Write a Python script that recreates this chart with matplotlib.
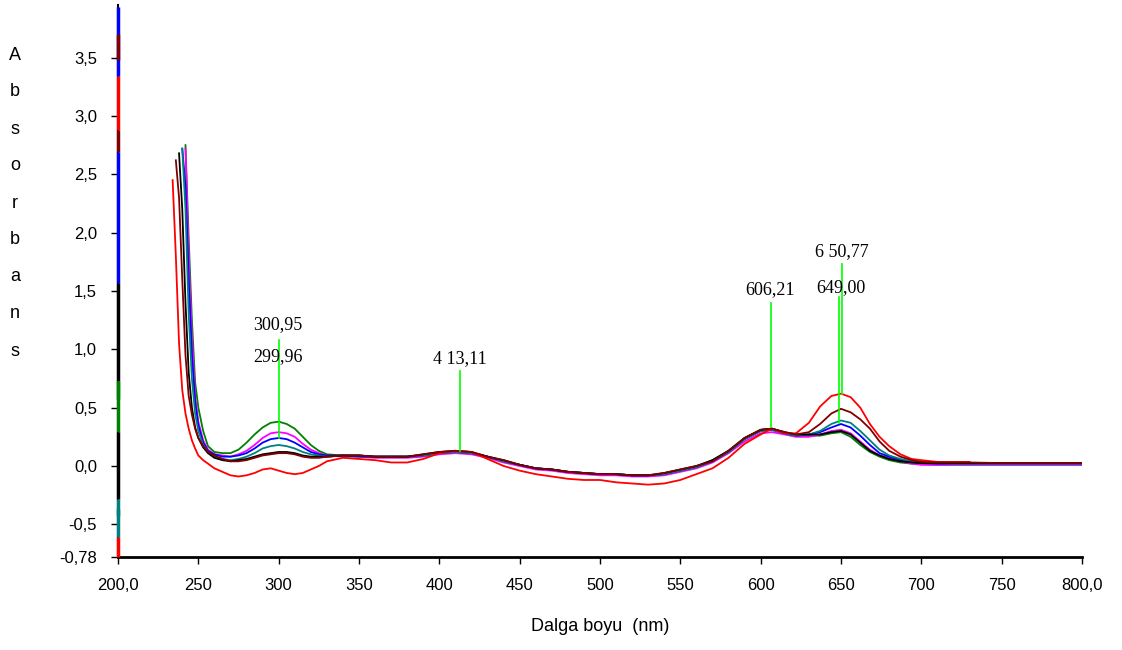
import numpy as np
import matplotlib
matplotlib.use('Agg')
import matplotlib.pyplot as plt

nan = np.nan

# wavelength grid (nm)
wl = [234, 236, 238, 240, 242, 244, 246, 248, 250, 253,
      256, 260, 265, 270, 275, 280, 285, 290, 295, 300,
      305, 310, 315, 320, 325, 330, 340, 350, 360, 370,
      380, 390, 400, 410, 420, 430, 440, 450, 460, 470,
      480, 490, 500, 510, 520, 530, 540, 550, 560, 570,
      580, 590, 600, 607, 615, 622, 630, 637, 644, 650,
      656, 662, 668, 674, 680, 687, 694, 700, 710, 720,
      730, 750, 775, 800]

# absorbance of each spectrum
a_green = [nan, nan, nan, nan, 2.75, 1.95, 1.25, 0.72, 0.50, 0.30,
           0.17, 0.12, 0.11, 0.11, 0.14, 0.20, 0.27, 0.33, 0.37, 0.38,
           0.36, 0.32, 0.25, 0.18, 0.13, 0.10, 0.09, 0.09, 0.08, 0.08,
           0.08, 0.09, 0.11, 0.12, 0.11, 0.08, 0.04, 0.01, -0.02, -0.03,
           -0.05, -0.06, -0.07, -0.07, -0.08, -0.08, -0.07, -0.04, -0.01, 0.05,
           0.13, 0.24, 0.31, 0.32, 0.28, 0.26, 0.26, 0.26, 0.28, 0.29,
           0.25, 0.18, 0.12, 0.08, 0.05, 0.03, 0.02, 0.015, 0.01, 0.01,
           0.01, 0.01, 0.01, 0.01]
a_magenta = [nan, nan, nan, nan, 2.72, 1.80, 1.10, 0.60, 0.38, 0.22,
             0.14, 0.10, 0.09, 0.08, 0.10, 0.13, 0.18, 0.24, 0.28, 0.29,
             0.28, 0.25, 0.19, 0.14, 0.11, 0.09, 0.08, 0.08, 0.07, 0.07,
             0.07, 0.08, 0.10, 0.11, 0.10, 0.07, 0.03, 0.00, -0.03, -0.04,
             -0.06, -0.07, -0.08, -0.08, -0.09, -0.09, -0.08, -0.05, -0.02, 0.03,
             0.11, 0.21, 0.28, 0.29, 0.27, 0.25, 0.25, 0.27, 0.30, 0.31,
             0.28, 0.21, 0.14, 0.09, 0.07, 0.04, 0.02, 0.01, 0.01, 0.01,
             0.01, 0.01, 0.01, 0.01]
a_blue = [nan, nan, nan, 2.72, 2.40, 1.60, 0.95, 0.55, 0.35, 0.20,
          0.13, 0.10, 0.08, 0.08, 0.09, 0.11, 0.15, 0.20, 0.23, 0.24,
          0.23, 0.20, 0.16, 0.12, 0.10, 0.09, 0.09, 0.08, 0.08, 0.08,
          0.08, 0.09, 0.11, 0.12, 0.11, 0.08, 0.04, 0.01, -0.02, -0.03,
          -0.05, -0.06, -0.07, -0.07, -0.08, -0.08, -0.07, -0.04, -0.01, 0.04,
          0.12, 0.23, 0.30, 0.31, 0.28, 0.26, 0.27, 0.29, 0.33, 0.36,
          0.33, 0.26, 0.18, 0.11, 0.08, 0.05, 0.035, 0.025, 0.02, 0.02,
          0.02, 0.02, 0.02, 0.02]
a_teal = [nan, nan, nan, 2.72, 2.20, 1.30, 0.75, 0.45, 0.30, 0.18,
          0.12, 0.08, 0.06, 0.05, 0.06, 0.08, 0.11, 0.15, 0.17, 0.18,
          0.17, 0.15, 0.12, 0.10, 0.09, 0.08, 0.09, 0.09, 0.08, 0.08,
          0.08, 0.09, 0.11, 0.12, 0.11, 0.08, 0.04, 0.01, -0.02, -0.03,
          -0.05, -0.06, -0.07, -0.07, -0.08, -0.08, -0.07, -0.04, -0.01, 0.04,
          0.12, 0.23, 0.30, 0.31, 0.28, 0.26, 0.27, 0.30, 0.36, 0.39,
          0.37, 0.30, 0.22, 0.14, 0.09, 0.06, 0.04, 0.03, 0.025, 0.02,
          0.02, 0.02, 0.02, 0.02]
a_black = [nan, nan, 2.68, 2.20, 1.40, 0.80, 0.50, 0.33, 0.24, 0.16,
           0.11, 0.07, 0.05, 0.04, 0.05, 0.06, 0.08, 0.10, 0.11, 0.12,
           0.12, 0.11, 0.09, 0.08, 0.08, 0.08, 0.09, 0.09, 0.08, 0.08,
           0.08, 0.10, 0.12, 0.13, 0.12, 0.08, 0.05, 0.01, -0.02, -0.03,
           -0.05, -0.06, -0.07, -0.07, -0.08, -0.08, -0.06, -0.03, 0.00, 0.05,
           0.13, 0.24, 0.31, 0.32, 0.29, 0.27, 0.27, 0.27, 0.29, 0.30,
           0.27, 0.20, 0.13, 0.09, 0.06, 0.04, 0.03, 0.025, 0.025, 0.025,
           0.025, 0.025, 0.025, 0.025]
a_darkred = [nan, 2.62, 2.30, 1.60, 0.95, 0.60, 0.44, 0.32, 0.24, 0.17,
             0.12, 0.09, 0.06, 0.04, 0.04, 0.05, 0.07, 0.09, 0.10, 0.11,
             0.11, 0.10, 0.08, 0.07, 0.07, 0.08, 0.09, 0.09, 0.08, 0.08,
             0.08, 0.10, 0.12, 0.13, 0.12, 0.08, 0.05, 0.01, -0.02, -0.03,
             -0.05, -0.06, -0.07, -0.07, -0.08, -0.08, -0.06, -0.03, 0.00, 0.04,
             0.13, 0.24, 0.31, 0.32, 0.29, 0.27, 0.29, 0.36, 0.45, 0.49,
             0.46, 0.40, 0.32, 0.21, 0.13, 0.08, 0.05, 0.035, 0.03, 0.03,
             0.03, 0.025, 0.025, 0.025]
a_red = [2.45, 1.80, 1.05, 0.65, 0.45, 0.32, 0.22, 0.15, 0.09, 0.05,
         0.02, -0.02, -0.05, -0.08, -0.09, -0.08, -0.06, -0.03, -0.02, -0.04,
         -0.06, -0.07, -0.06, -0.03, 0.00, 0.04, 0.07, 0.06, 0.05, 0.03,
         0.03, 0.06, 0.11, 0.13, 0.12, 0.06, 0.00, -0.04, -0.07, -0.09,
         -0.11, -0.12, -0.12, -0.14, -0.15, -0.16, -0.15, -0.12, -0.07, -0.02,
         0.07, 0.19, 0.27, 0.32, 0.28, 0.28, 0.37, 0.51, 0.60, 0.62,
         0.59, 0.50, 0.36, 0.25, 0.17, 0.10, 0.06, 0.05, 0.035, 0.035,
         0.035, nan, nan, nan]

series = [(a_green, '#008000'), (a_magenta, '#ff00ff'), (a_blue, '#0000ff'),
          (a_teal, '#008080'), (a_black, '#000000'), (a_red, '#ff0000'),
          (a_darkred, '#800000')]

# off-scale start of the spectra, drawn on the 200 nm line
strip_colors = ['#0000ff', '#ff0000', '#800000', '#800000', '#0000ff', '#000000',
                '#008000', '#008000', '#000000', '#008080', '#008080', '#ff0000']
strip_lo = [3.34, 2.88, 3.48, 2.69, 1.57, 0.73, 0.29, 0.57, -0.28, -0.61, -0.43, -0.78]
strip_hi = [3.93, 3.34, 3.70, 2.88, 2.69, 1.57, 0.73, 0.73, 0.29, -0.28, -0.37, -0.61]

# peak markers
mark_wl = [300.5, 413.11, 606.21, 649.00, 650.77]
mark_top = [1.08, 0.81, 1.40, 1.45, 1.73]
mark_bot = [0.24, 0.13, 0.33, 0.37, 0.62]
peak_labels = ['300,95', '299,96', '4 13,11', '606,21', '649,00', '6 50,77']
peak_lx = [299.6, 299.6, 412.5, 605.8, 650.0, 650.6]
peak_ly = [1.21, 0.94, 0.92, 1.51, 1.53, 1.84]

xticks = [200, 250, 300, 350, 400, 450, 500, 550, 600, 650, 700, 750, 800]
xticklabels = ['200,0', '250', '300', '350', '400', '450', '500', '550',
               '600', '650', '700', '750', '800,0']
yticks = [3.5, 3.0, 2.5, 2.0, 1.5, 1.0, 0.5, 0.0, -0.5, -0.78]
yticklabels = ['3,5', '3,0', '2,5', '2,0', '1,5', '1,0', '0,5', '0,0', '-0,5', '-0,78']

narrow = ['Liberation Sans Narrow', 'Liberation Sans', 'DejaVu Sans']

fig = plt.figure(figsize=(11.22, 6.5), dpi=100)
ax = fig.add_axes([118 / 1122, 0.1431, 964 / 1122, 0.849])

for vals, col in series:
    ax.plot(wl, vals, color=col, lw=1.3)

for c, lo, hi in zip(strip_colors, strip_lo, strip_hi):
    ax.plot([200, 200], [lo, hi], color=c, lw=2.5, clip_on=False, zorder=5,
            solid_capstyle='butt')

for x, t, b in zip(mark_wl, mark_top, mark_bot):
    ax.plot([x, x], [b, t], color='#00ff00', lw=1.2, zorder=4)
for s, x, y in zip(peak_labels, peak_lx, peak_ly):
    ax.text(x, y, s, ha='center', va='center', fontsize=13,
            family=['Liberation Serif', 'DejaVu Serif'], zorder=6)

ax.set_xlim(200, 800)
ax.set_ylim(-0.78, 3.95)
ax.set_xticks(xticks)
ax.set_xticklabels(xticklabels, family=narrow, fontsize=12)
ax.set_yticks(yticks)
ax.set_yticklabels(yticklabels, family=narrow, fontsize=12)
ax.tick_params(direction='out', length=5, width=1, pad=10)
ax.spines['top'].set_visible(False)
ax.spines['right'].set_visible(False)
ax.spines['bottom'].set_linewidth(2)
ax.spines['left'].set_linewidth(1.5)

ax.set_xlabel('Dalga boyu  (nm)', family=narrow, fontsize=13, labelpad=18)

# vertical axis title, one letter per line
for i, ch in enumerate('Absorbans'):
    fig.text(15 / 1122, 1 - (55 + i * 37) / 650, ch, ha='center', va='center',
             fontsize=13, family=narrow)

fig.savefig('out.png', dpi=100)
